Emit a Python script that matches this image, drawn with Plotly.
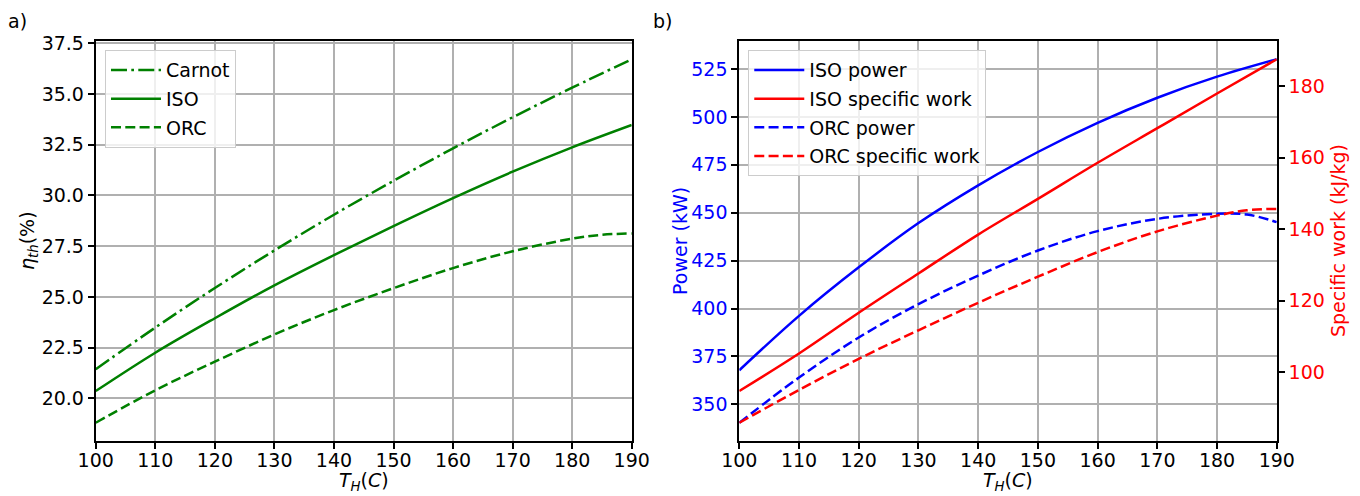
import plotly.graph_objects as go

# ---------------- data ----------------
T = [100, 110, 120, 130, 140, 150, 160, 170, 180, 190]
T_orc = [100, 110, 120, 130, 140, 150, 160, 170, 180, 185, 190]

eta_carnot = [21.44, 23.49, 25.44, 27.29, 29.05, 30.72, 32.32, 33.85, 35.31, 36.71]
eta_iso = [20.36, 22.25, 23.95, 25.57, 27.06, 28.49, 29.87, 31.17, 32.37, 33.47]
eta_orc = [18.80, 20.40, 21.81, 23.15, 24.35, 25.43, 26.42, 27.25, 27.87, 28.06, 28.13]

power_iso = [367.8, 396.2, 421.5, 444.6, 464.3, 481.7, 496.9, 510.0, 521.0, 530.1]
work_iso = [94.7, 105.2, 116.6, 127.6, 138.5, 148.5, 158.6, 168.3, 178.0, 187.6]
power_orc = [340.4, 364.0, 384.9, 402.3, 417.2, 430.3, 440.4, 446.8, 449.5, 449.1, 445.1]
work_orc = [85.8, 95.0, 103.7, 111.7, 119.4, 126.7, 133.6, 139.4, 143.8, 145.3, 145.7]

x_ticks = [100, 110, 120, 130, 140, 150, 160, 170, 180, 190]
eta_ticks = [20.0, 22.5, 25.0, 27.5, 30.0, 32.5, 35.0, 37.5]
power_ticks = [350, 375, 400, 425, 450, 475, 500, 525]
work_ticks = [100, 120, 140, 160, 180]

# ---------------- style ----------------
FONT = "DejaVu Sans"
FS = 19
GREEN = "#008000"
BLUE = "#0000ff"
RED = "#ff0000"
LW = 2.5
DASH = "10px,4.3px"
DASHDOT = "16px,4.3px,2.7px,4.3px"

fig = go.Figure()

# left panel
fig.add_trace(go.Scatter(x=T, y=eta_carnot, mode="lines", name="Carnot",
                         line=dict(color=GREEN, width=LW, dash=DASHDOT, shape="spline"),
                         xaxis="x", yaxis="y", legend="legend", legendgroup="a1"))
fig.add_trace(go.Scatter(x=T, y=eta_iso, mode="lines", name="ISO",
                         line=dict(color=GREEN, width=LW, shape="spline"),
                         xaxis="x", yaxis="y", legend="legend", legendgroup="a2"))
fig.add_trace(go.Scatter(x=T_orc, y=eta_orc, mode="lines", name="ORC",
                         line=dict(color=GREEN, width=LW, dash=DASH, shape="spline"),
                         xaxis="x", yaxis="y", legend="legend", legendgroup="a3"))

# right panel
fig.add_trace(go.Scatter(x=T, y=power_iso, mode="lines", name="ISO power",
                         line=dict(color=BLUE, width=LW, shape="spline"),
                         xaxis="x2", yaxis="y2", legend="legend2", legendgroup="b1"))
fig.add_trace(go.Scatter(x=T, y=work_iso, mode="lines", name="ISO specific work",
                         line=dict(color=RED, width=LW, shape="spline"),
                         xaxis="x2", yaxis="y3", legend="legend2", legendgroup="b2"))
fig.add_trace(go.Scatter(x=T_orc, y=power_orc, mode="lines", name="ORC power",
                         line=dict(color=BLUE, width=LW, dash=DASH, shape="spline"),
                         xaxis="x2", yaxis="y2", legend="legend2", legendgroup="b3"))
fig.add_trace(go.Scatter(x=T_orc, y=work_orc, mode="lines", name="ORC specific work",
                         line=dict(color=RED, width=LW, dash=DASH, shape="spline"),
                         xaxis="x2", yaxis="y3", legend="legend2", legendgroup="b4"))

common = dict(showline=True, linecolor="black", linewidth=2, mirror=True,
              ticks="outside", ticklen=6, tickwidth=1.5, tickcolor="black",
              showgrid=True, gridcolor="#b0b0b0", gridwidth=1.5, zeroline=False,
              automargin=False, tickfont=dict(family=FONT, size=FS, color="black"))

xcommon = {**common, "ticklabelstandoff": -5}

ydom = [0.1109, 0.9173]
leg = dict(xanchor="left", yanchor="top",
           bgcolor="rgba(255,255,255,0.8)", bordercolor="#cccccc", borderwidth=1,
           font=dict(family=FONT, size=FS, color="black"), tracegroupgap=1, itemwidth=50)
fig.update_layout(
    width=1360, height=496,
    margin=dict(l=0, r=0, t=0, b=0),
    paper_bgcolor="white", plot_bgcolor="white",
    font=dict(family=FONT, size=FS, color="black"),
    xaxis=dict(domain=[0.0704, 0.4645], anchor="y", range=[100, 190],
               tickvals=x_ticks, **xcommon),
    yaxis=dict(domain=ydom, anchor="x", range=[17.90, 37.61],
               tickvals=eta_ticks, tickformat=".1f", **common),
    xaxis2=dict(domain=[0.5436, 0.9388], anchor="y2", range=[100, 190],
                tickvals=x_ticks, **xcommon),
    yaxis2=dict(domain=ydom, anchor="x2", range=[330.9, 539.6],
                tickvals=power_ticks,
                **{**common, "tickfont": dict(family=FONT, size=FS, color=BLUE)}),
    yaxis3=dict(overlaying="y2", anchor="x2", side="right", range=[80.7, 192.7],
                tickvals=work_ticks,
                **{**common, "showgrid": False, "mirror": False,
                   "tickfont": dict(family=FONT, size=FS, color=RED)}),
    legend=dict(x=0.0772, y=0.899, **leg),
    legend2=dict(x=0.5502, y=0.899, **leg),
    showlegend=True,
)

ann = [
    dict(text="a)", x=17 / 1360, y=1 - 21 / 496, color="black", angle=0),
    dict(text="b)", x=662 / 1360, y=1 - 21 / 496, color="black", angle=0),
    dict(text="<i>T</i><sub><i>H</i></sub>(<i>C</i>)", x=363.7 / 1360, y=1 - 481 / 496, color="black", angle=0),
    dict(text="<i>T</i><sub><i>H</i></sub>(<i>C</i>)", x=1008 / 1360, y=1 - 481 / 496, color="black", angle=0),
    dict(text="<i>η</i><sub><i>th</i></sub>(%)", x=29 / 1360, y=1 - 241 / 496, color="black", angle=-90),
    dict(text="Power (kW)", x=680 / 1360, y=1 - 241 / 496, color=BLUE, angle=-90),
    dict(text="Specific work (kJ/kg)", x=1338 / 1360, y=1 - 241 / 496, color=RED, angle=-90),
]
for a in ann:
    fig.add_annotation(text=a["text"], x=a["x"], y=a["y"], xref="paper", yref="paper",
                       xanchor="center", yanchor="middle", showarrow=False,
                       textangle=a["angle"], font=dict(family=FONT, size=FS, color=a["color"]))

fig.write_html("out.html")
